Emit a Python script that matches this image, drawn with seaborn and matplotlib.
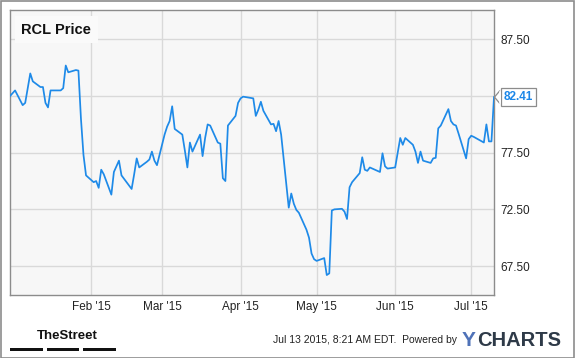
import matplotlib
matplotlib.use("Agg")
import matplotlib.pyplot as plt
import matplotlib.dates as mdates
from matplotlib.patches import Rectangle
from matplotlib.lines import Line2D
import seaborn as sns
import pandas as pd

# ---- data ----
dates = [
    "2014-12-31", "2015-01-02", "2015-01-05", "2015-01-06", "2015-01-07", "2015-01-08",
    "2015-01-09", "2015-01-12", "2015-01-13", "2015-01-14", "2015-01-15", "2015-01-16",
    "2015-01-20", "2015-01-21", "2015-01-22", "2015-01-23", "2015-01-26", "2015-01-27",
    "2015-01-28", "2015-01-29", "2015-01-30", "2015-02-02", "2015-02-03", "2015-02-04",
    "2015-02-05", "2015-02-06", "2015-02-09", "2015-02-10", "2015-02-11", "2015-02-12",
    "2015-02-13", "2015-02-17", "2015-02-18", "2015-02-19", "2015-02-20", "2015-02-23",
    "2015-02-24", "2015-02-25", "2015-02-26", "2015-02-27", "2015-03-02", "2015-03-03",
    "2015-03-04", "2015-03-05", "2015-03-06", "2015-03-09", "2015-03-10", "2015-03-11",
    "2015-03-12", "2015-03-13", "2015-03-16", "2015-03-17", "2015-03-18", "2015-03-19",
    "2015-03-20", "2015-03-23", "2015-03-24", "2015-03-25", "2015-03-26", "2015-03-27",
    "2015-03-30", "2015-03-31", "2015-04-01", "2015-04-02", "2015-04-06", "2015-04-07",
    "2015-04-08", "2015-04-09", "2015-04-10", "2015-04-13", "2015-04-14", "2015-04-15",
    "2015-04-16", "2015-04-17", "2015-04-20", "2015-04-21", "2015-04-22", "2015-04-23",
    "2015-04-24", "2015-04-27", "2015-04-28", "2015-04-29", "2015-04-30", "2015-05-01",
    "2015-05-04", "2015-05-05", "2015-05-06", "2015-05-07", "2015-05-08", "2015-05-11",
    "2015-05-12", "2015-05-13", "2015-05-14", "2015-05-15", "2015-05-18", "2015-05-19",
    "2015-05-20", "2015-05-21", "2015-05-22", "2015-05-26", "2015-05-27", "2015-05-28",
    "2015-05-29", "2015-06-01", "2015-06-02", "2015-06-03", "2015-06-04", "2015-06-05",
    "2015-06-08", "2015-06-09", "2015-06-10", "2015-06-11", "2015-06-12", "2015-06-15",
    "2015-06-16", "2015-06-17", "2015-06-18", "2015-06-19", "2015-06-22", "2015-06-23",
    "2015-06-24", "2015-06-25", "2015-06-26", "2015-06-29", "2015-06-30", "2015-07-01",
    "2015-07-02", "2015-07-06", "2015-07-07", "2015-07-08", "2015-07-09", "2015-07-10",
]
prices = [
    82.5, 83.0, 81.7, 81.9, 83.2, 84.5,
    83.8, 83.3, 83.3, 81.9, 81.5, 83.0,
    83.0, 83.2, 85.2, 84.6, 84.8, 84.75,
    80.5, 77.3, 75.5, 74.9, 75.0, 74.4,
    76.0, 75.6, 73.8, 75.8, 76.3, 76.8,
    75.5, 74.3, 75.6, 77.0, 76.2, 76.7,
    76.9, 77.6, 76.8, 76.4, 79.1, 79.8,
    80.3, 81.6, 79.6, 79.1, 77.7, 76.2,
    78.4, 77.6, 79.1, 77.2, 78.8, 80.0,
    79.9, 78.4, 78.3, 75.25, 75.0, 79.9,
    80.75, 81.9, 82.3, 82.45, 82.3, 80.75,
    81.3, 82.0, 81.2, 80.0, 80.05, 79.4,
    80.3, 79.1, 72.65, 73.9, 73.0, 72.45,
    72.2, 70.7, 70.0, 68.6, 68.1, 67.95,
    68.2, 66.7, 66.85, 72.4, 72.5, 72.55,
    72.3, 71.65, 74.45, 74.9, 75.7, 77.1,
    76.0, 75.9, 76.2, 75.8, 77.45, 76.3,
    76.1, 76.2, 77.5, 78.8, 78.2, 78.8,
    78.2, 77.6, 76.6, 77.6, 76.8, 76.6,
    77.0, 77.05, 79.65, 79.9, 81.35, 80.3,
    80.0, 79.9, 79.2, 77.0, 78.7, 79.0,
    78.9, 78.4, 80.0, 78.5, 78.5, 82.41,
]
y_ticks = [67.5, 72.5, 77.5, 82.5, 87.5]
y_tick_labels = ["67.50", "72.50", "77.50", "", "87.50"]  # 82.50 is hidden under the last-value label
title_text = "RCL Price"
last_label = "82.41"
footer_text = "Jul 13 2015, 8:21 AM EDT.  Powered by"

df = pd.DataFrame({"date": pd.to_datetime(dates), "price": prices})

LINE = "#1e8ae8"
GRID = "#d9d9d9"
SPINE = "#8c8c8c"
FONT = ["Liberation Sans", "DejaVu Sans"]

plt.rcParams["font.family"] = FONT

fig = plt.figure(figsize=(5.75, 3.58), dpi=100)
fig.patch.set_facecolor("white")
W, H = 575, 358
ax = fig.add_axes([10 / W, 1 - 295 / H, 484 / W, 285 / H])
ax.set_facecolor("#f7f7f7")

sns.lineplot(data=df, x="date", y="price", ax=ax, color=LINE, linewidth=1.25, zorder=3)

ax.set_xlim(pd.Timestamp("2014-12-31"), pd.Timestamp("2015-07-10"))
ax.set_ylim(64.94, 90.1)
ax.set_xlabel("")
ax.set_ylabel("")

ax.xaxis.set_major_locator(mdates.MonthLocator(bymonth=[2, 3, 4, 5, 6, 7]))
ax.xaxis.set_major_formatter(mdates.DateFormatter("%b '%y"))
ax.set_yticks(y_ticks)
ax.set_yticklabels(y_tick_labels)
ax.yaxis.tick_right()
ax.tick_params(axis="both", length=0, labelsize=8.5, labelcolor="#222222")
ax.tick_params(axis="y", pad=4.5)
ax.tick_params(axis="x", pad=4.5)
ax.grid(True, color=GRID, linewidth=1.0, zorder=0)
ax.set_axisbelow(True)
for s in ax.spines.values():
    s.set_color(SPINE)
    s.set_linewidth(1.0)

# title inside the plot
ax.text(0.023, 0.955, title_text, transform=ax.transAxes, ha="left", va="top",
        fontsize=10.5, fontweight="bold", color="#111111",
        bbox=dict(boxstyle="square,pad=0.45", facecolor="#fafafa", edgecolor="none"), zorder=4)

# last value label with a pointer
last_x = df["date"].iloc[-1]
last_y = df["price"].iloc[-1]
ax.annotate(last_label, xy=(last_x, last_y), xycoords="data",
            xytext=(7, 0), textcoords="offset points", ha="left", va="center",
            fontsize=8.5, fontweight="bold", color="#1a86e8", annotation_clip=False,
            bbox=dict(boxstyle="square,pad=0.25", facecolor="white", edgecolor="#8c8c8c", linewidth=0.9),
            zorder=5)
fig.canvas.draw()
px, py = ax.transData.transform((mdates.date2num(last_x), last_y))
fx, fy = fig.transFigure.inverted().transform((px, py))
dx, dy = 5.5 / W, 6 / H
fig.add_artist(Line2D([fx + dx, fx + 0.5 / W, fx + dx], [fy + dy, fy, fy - dy],
                      transform=fig.transFigure, color="#8c8c8c", linewidth=0.9))
fig.add_artist(Line2D([fx + dx + 0.7 / W] * 2, [fy + dy - 0.5 / H, fy - dy + 0.5 / H],
                      transform=fig.transFigure, color="white", linewidth=1.2))

# footer: TheStreet logo
fig.text(37 / W, 1 - 336 / H, "TheStreet", ha="left", va="center", fontsize=9.5,
         fontweight="bold", color="#111111", fontstretch="condensed",
         family=["Liberation Sans Narrow", "Liberation Sans", "DejaVu Sans"])
for x0, x1 in [(10, 43), (47, 79), (83, 116)]:
    fig.add_artist(Rectangle((x0 / W, 1 - 351 / H), (x1 - x0) / W, 3 / H,
                             transform=fig.transFigure, facecolor="#111111", edgecolor="none"))

# footer text + YCHARTS
fig.text(273 / W, 1 - 340 / H, footer_text, ha="left", va="center", fontsize=7.5, color="#222222")
fig.text(462 / W, 1 - 340 / H, "Y", ha="left", va="center", fontsize=15, fontweight="bold", color="#4f72b8")
fig.text(477 / W, 1 - 340 / H, "CHARTS", ha="left", va="center", fontsize=14.5, fontweight="bold", color="#2e3a48")

# outer border
fig.add_artist(Rectangle((0.5 / W, 0.5 / H), 1 - 1.5 / W, 1 - 1.5 / H, transform=fig.transFigure,
                         facecolor="none", edgecolor="#8c8c8c", linewidth=1.2))

fig.savefig("out.png", dpi=100)
